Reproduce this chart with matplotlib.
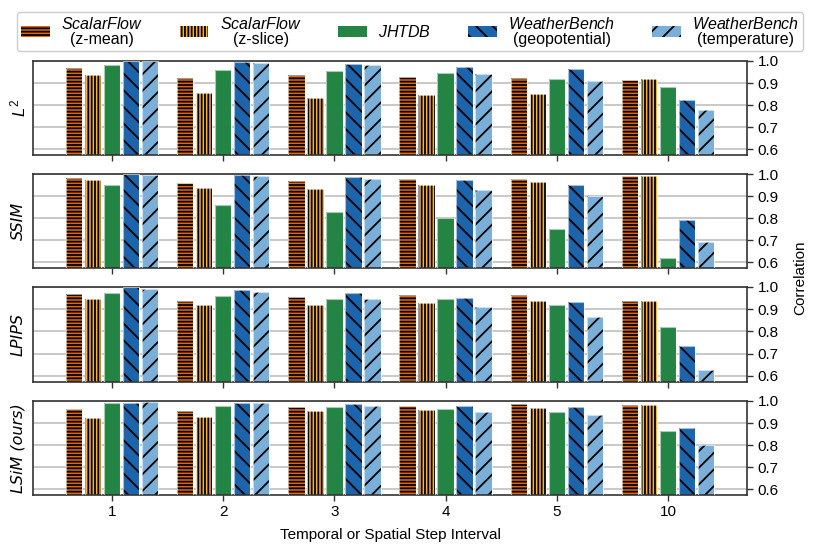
import matplotlib
matplotlib.use("Agg")
import matplotlib.pyplot as plt
import numpy as np

plt.rcParams['font.family'] = ['Liberation Sans', 'DejaVu Sans']
plt.rcParams['mathtext.fontset'] = 'custom'
plt.rcParams['mathtext.it'] = 'Liberation Sans:italic'
plt.rcParams['mathtext.rm'] = 'Liberation Sans'
plt.rcParams['hatch.linewidth'] = 1.3

intervals = ["1", "2", "3", "4", "5", "10"]
series_labels = [
    r"$\it{ScalarFlow}$" + "\n(z-mean)",
    r"$\it{ScalarFlow}$" + "\n(z-slice)",
    r"$\it{JHTDB}$",
    r"$\it{WeatherBench}$" + "\n(geopotential)",
    r"$\it{WeatherBench}$" + "\n(temperature)",
]
metric_labels = [r"$L^2$", "SSIM", "LPIPS", "LSiM (ours)"]

# values per metric: rows = series, columns = intervals
l2 = [
    [0.970, 0.924, 0.935, 0.929, 0.921, 0.912],
    [0.935, 0.856, 0.833, 0.844, 0.850, 0.917],
    [0.982, 0.961, 0.953, 0.944, 0.920, 0.883],
    [1.000, 0.995, 0.985, 0.971, 0.965, 0.821],
    [0.999, 0.991, 0.980, 0.942, 0.908, 0.776],
]
ssim = [
    [0.983, 0.959, 0.969, 0.977, 0.977, 0.989],
    [0.974, 0.937, 0.933, 0.948, 0.963, 0.992],
    [0.950, 0.861, 0.827, 0.802, 0.751, 0.620],
    [1.000, 0.995, 0.988, 0.975, 0.949, 0.791],
    [0.997, 0.992, 0.979, 0.926, 0.898, 0.692],
]
lpips = [
    [0.970, 0.938, 0.956, 0.965, 0.964, 0.938],
    [0.945, 0.917, 0.917, 0.929, 0.938, 0.935],
    [0.971, 0.961, 0.947, 0.945, 0.921, 0.820],
    [1.000, 0.988, 0.974, 0.952, 0.933, 0.734],
    [0.992, 0.977, 0.947, 0.911, 0.865, 0.625],
]
lsim = [
    [0.962, 0.953, 0.973, 0.977, 0.985, 0.980],
    [0.921, 0.927, 0.955, 0.961, 0.968, 0.980],
    [0.989, 0.977, 0.971, 0.964, 0.950, 0.865],
    [0.991, 0.991, 0.985, 0.977, 0.973, 0.876],
    [0.995, 0.989, 0.977, 0.948, 0.936, 0.798],
]
metrics = [l2, ssim, lpips, lsim]

colors = ["#e4670c", "#fbb03b", "#238443", "#1c64ab", "#79afd8"]
hatches = ["-----", "|||||", "", "\\\\", "//"]

W, H = 822, 554
fig = plt.figure(figsize=(W / 100, H / 100), dpi=100)

left_px, right_px = 33, 747
panels_px = [(61, 155), (174, 268), (287, 382), (401, 495)]

x = np.arange(len(intervals))
step = 0.171
bw = 0.148
offsets = (np.arange(5) - 2) * step

axes = []
handles = []
for mi, (top, bot) in enumerate(panels_px):
    ax = fig.add_axes([left_px / W, 1 - bot / H, (right_px - left_px) / W, (bot - top) / H])
    axes.append(ax)
    ax.set_axisbelow(True)
    ax.yaxis.grid(True, color="#c0c0c0", lw=1.2)
    data = metrics[mi]
    for si in range(5):
        b = ax.bar(x + offsets[si], data[si], bw, bottom=0, color=colors[si],
                   hatch=hatches[si], edgecolor="black", linewidth=0, zorder=2)
        ax.bar(x + offsets[si], data[si], bw, bottom=0, facecolor="none",
               edgecolor="white", linewidth=0.8, alpha=0.6, zorder=3)
        if mi == 0:
            handles.append(b)
    ax.set_ylim(0.573, 1.0)
    ax.set_xlim(-0.71, 5.71)
    ax.yaxis.tick_right()
    ax.set_yticks([0.6, 0.7, 0.8, 0.9, 1.0])
    ax.set_yticklabels(["0.6", "0.7", "0.8", "0.9", "1.0"], fontsize=11)
    ax.set_xticks(x)
    if mi == 3:
        ax.set_xticklabels(intervals, fontsize=11)
    else:
        ax.set_xticklabels([])
    ax.tick_params(axis="both", direction="out", length=4, width=1, color="#333333")
    for sp in ax.spines.values():
        sp.set_color("#333333")
        sp.set_linewidth(1.2)
    if mi == 0:
        lab = ax.set_ylabel(metric_labels[mi], fontsize=12)
    else:
        lab = ax.set_ylabel(metric_labels[mi], fontsize=11.5, family="DejaVu Sans", style="italic")
    lab.set_va("center")
    ax.yaxis.set_label_coords((18 - left_px) / (right_px - left_px), 0.5)

axes[3].set_xlabel("Temporal or Spatial Step Interval", fontsize=11, labelpad=6)
fig.text(800 / W, 1 - 278 / H, "Correlation", rotation=90, va="center", ha="center", fontsize=11)

leg = fig.legend(handles, series_labels, loc="upper center", ncol=5,
                 bbox_to_anchor=(410 / W, 1 - 12 / H),
                 fontsize=11.5, handlelength=1.8, handleheight=0.7, borderaxespad=0,
                 borderpad=0.25, frameon=True, fancybox=True, edgecolor="#cccccc",
                 framealpha=1, columnspacing=2.3, handletextpad=0.7)
for t in leg.get_texts():
    t.set_multialignment("center")
    t.set_linespacing(1.0)

fig.savefig("out.png", dpi=100)
